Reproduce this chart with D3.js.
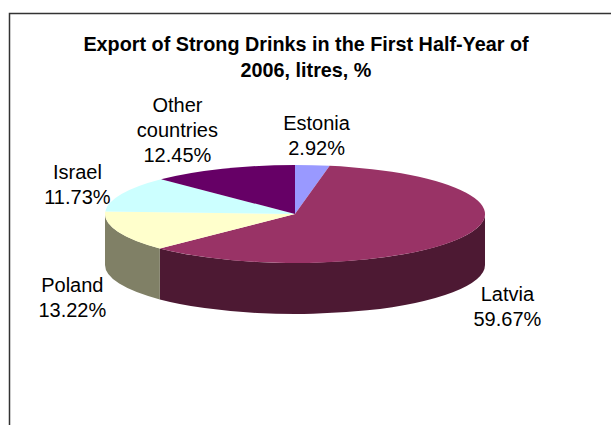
<!DOCTYPE html>
<meta charset="utf-8">
<title>Export of Strong Drinks in the First Half-Year of 2006</title>
<style>
  body { margin: 0; background: #fff; }
  svg { display: block; }
</style>
<svg width="611" height="425"></svg>
<script src="https://d3js.org/d3.v7.min.js"></script>
<script>

var countries = ["Estonia", "Latvia", "Poland", "Israel", "Other countries"];
var shares = [2.92, 59.67, 13.22, 11.73, 12.45];
var titleLines = ["Export of Strong Drinks in the First Half-Year of", "2006, litres, %"];

var topColors = ["#9999ff", "#993366", "#ffffcc", "#ccffff", "#660066"],
    sideColors = ["#4d4d80", "#4d1933", "#808066", "#668080", "#330033"];

var svg = d3.select("svg"),
    width = +svg.attr("width"),
    height = +svg.attr("height");

var font = "'Liberation Sans', Arial, sans-serif";

// chart area frame (runs off the right and bottom of the picture)
svg.append("rect")
    .attr("x", 9.5).attr("y", 13.5)
    .attr("width", 640).attr("height", 440)
    .attr("fill", "none")
    .attr("stroke", "#333")
    .attr("stroke-width", 1.5);

svg.append("g")
    .attr("font-family", font)
    .attr("font-weight", "bold")
    .attr("font-size", 19.8)
    .attr("text-anchor", "middle")
  .selectAll("text")
  .data(titleLines)
  .enter().append("text")
    .attr("x", 306)
    .attr("y", function(d, i) { return 51 + i * 26; })
    .text(function(d) { return d; });

// 3d pie geometry
var cx = 295, cy = 214, rx = 190, ry = 49, depth = 51;

var pie = d3.pie().sort(null).value(function(d) { return d; });
var arcs = pie(shares);

function pt(t, dy) {
  return [cx + rx * Math.sin(t), cy - ry * Math.cos(t) + (dy || 0)];
}

function topPath(d) {
  var p0 = pt(d.startAngle), p1 = pt(d.endAngle),
      large = d.endAngle - d.startAngle > Math.PI ? 1 : 0;
  return "M" + cx + "," + cy + "L" + p0 + "A" + rx + "," + ry + " 0 " + large + " 1 " + p1 + "Z";
}

function sidePath(d) {
  var a0 = Math.max(d.startAngle, Math.PI / 2),
      a1 = Math.min(d.endAngle, 3 * Math.PI / 2);
  if (a1 <= a0) return null;
  var p0 = pt(a0), p1 = pt(a1), q0 = pt(a0, depth), q1 = pt(a1, depth);
  return "M" + p0 + "L" + q0 + "A" + rx + "," + ry + " 0 0 1 " + q1 +
         "L" + p1 + "A" + rx + "," + ry + " 0 0 0 " + p0 + "Z";
}

var g = svg.append("g");

g.selectAll("path.side")
  .data(arcs.filter(function(d) { return sidePath(d) !== null; }))
  .enter().append("path")
    .attr("class", "side")
    .attr("d", sidePath)
    .attr("fill", function(d) { return sideColors[d.index]; });

g.selectAll("path.top")
  .data(arcs)
  .enter().append("path")
    .attr("class", "top")
    .attr("d", topPath)
    .attr("fill", function(d) { return topColors[d.index]; });

// labels
var lineH = 25;
var labels = svg.append("g")
    .attr("font-family", font)
    .attr("font-size", 20)
    .attr("fill", "#000")
    .attr("text-anchor", "middle");

arcs.forEach(function(d) {
  var words = countries[d.index] === "Other countries" ? ["Other", "countries"] : [countries[d.index]];
  var lines = words.concat([d3.format(".2f")(shares[d.index]) + "%"]);
  var t = (d.startAngle + d.endAngle) / 2,
      s = Math.sin(t), c = Math.cos(t);
  var p = pt(t, c < 0 ? depth : 0);
  p = [p[0] + s * 12, p[1] - c * 8];

  var txt = labels.append("text");
  lines.forEach(function(l, i) {
    txt.append("tspan").attr("x", 0).attr("y", i * lineH).text(l);
  });
  var w = d3.max(txt.selectAll("tspan").nodes(), function(n) { return n.getComputedTextLength(); }),
      h = lines.length * lineH;
  var bx = Math.abs(s) > 0.3 ? Math.sign(s) * w / 2 : s * w / 2,
      by = -c * h / 2;
  var x = p[0] + bx, y = p[1] + by - h / 2 + lineH * 0.72 + 5;
  txt.attr("transform", "translate(" + x + "," + y + ")");
});

</script>
